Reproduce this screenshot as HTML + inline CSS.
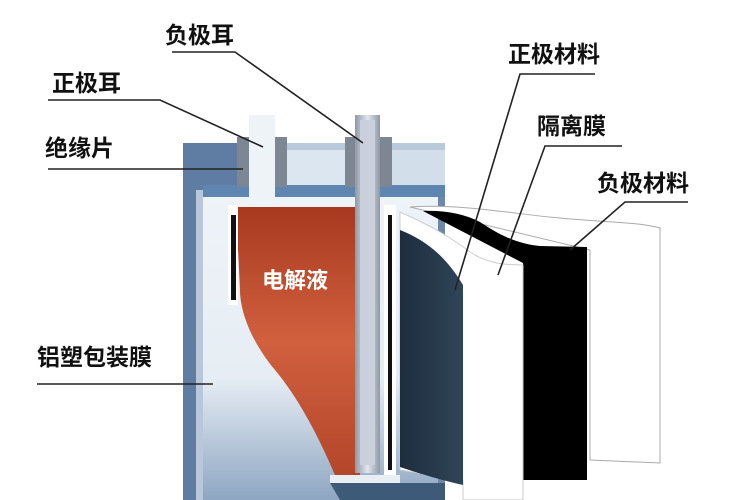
<!DOCTYPE html>
<html><head><meta charset="utf-8"><style>
html,body{margin:0;padding:0;background:#fff;}
svg{display:block}
text{font-family:"Liberation Sans","Noto Sans CJK SC",sans-serif;font-size:23px;fill:#111;font-weight:bold;}
</style></head><body>
<svg width="736" height="500" viewBox="0 0 736 500" xmlns="http://www.w3.org/2000/svg">
<defs>
<linearGradient id="cas" x1="0" y1="0" x2="0" y2="1">
<stop offset="0" stop-color="#eef3f8"/><stop offset="0.6" stop-color="#e6edf4"/><stop offset="1" stop-color="#8ea6c2"/></linearGradient>
<linearGradient id="red" x1="0" y1="0" x2="0" y2="1">
<stop offset="0" stop-color="#a8391f"/><stop offset="0.5" stop-color="#d0603e"/><stop offset="1" stop-color="#b4462a"/></linearGradient>
<linearGradient id="tab" x1="0" y1="0" x2="1" y2="0">
<stop offset="0" stop-color="#8f98a6"/><stop offset="0.5" stop-color="#e2e6ee"/><stop offset="1" stop-color="#8f98a6"/></linearGradient>
<linearGradient id="navy" x1="0" y1="0" x2="1" y2="0">
<stop offset="0" stop-color="#1d2d3e"/><stop offset="1" stop-color="#2f4558"/></linearGradient>
</defs>
<rect x="183" y="143" width="262" height="357" fill="#6d88a8"/>
<rect x="183" y="143" width="57" height="357" fill="#5f7ca3"/>
<rect x="196" y="190" width="18" height="310" fill="#b8c8da"/>
<rect x="203" y="195" width="235" height="305" fill="url(#cas)"/>
<rect x="240" y="143" width="205" height="42" fill="#b9cadb"/>
<rect x="287" y="150" width="58" height="35" fill="#dbe6f0"/>
<rect x="392" y="150" width="53" height="35" fill="#d2dfeb"/>
<rect x="203" y="185" width="242" height="12" fill="#5f86b0"/>
<rect x="237" y="137" width="12" height="50" fill="#7d8793"/>
<rect x="275" y="137" width="12" height="50" fill="#7d8793"/>
<rect x="345" y="137" width="10" height="50" fill="#7d8793"/>
<rect x="380" y="137" width="12" height="50" fill="#7d8793"/>
<path d="M236 207 L360 207 L360 475 L335 475 C320 440 300 400 275 370 C250 340 240 310 240 290 Z" fill="url(#red)"/>
<rect x="228" y="205" width="10" height="100" fill="#fff"/>
<rect x="231" y="215" width="5" height="85" fill="#111"/>
<rect x="384" y="205" width="12" height="270" fill="#fff"/>
<rect x="388" y="215" width="4" height="255" fill="#111"/>
<rect x="330" y="475" width="70" height="8" fill="#e8eef4"/>
<path d="M330 483 L445 483 L445 500 L340 500 Z" fill="#3d5a78"/>
<rect x="249" y="115" width="26" height="92" fill="#eef3f7"/>
<rect x="355" y="115" width="25" height="358" fill="url(#tab)"/>
<rect x="360" y="120" width="15" height="345" fill="#c9d0db"/>
<text x="262" y="288" style="fill:#fff;font-size:22px">电解液</text>
<path d="M410 207 C460 203 520 215 560 218 C600 222 640 222 660 228 L660 463 L590 460 L590 250 Z" fill="#fff" stroke="#aaa" stroke-width="1"/>
<path d="M423 211 C445 210 465 214 480 222 C495 232 515 244 540 246 L587 247 L587 480 L523 480 L523 263 Z" fill="#000"/>
<path d="M400 212 C430 225 455 240 470 252 C485 262 500 265 523 265 L523 500 L463 500 L463 480 L400 470 Z" fill="#fff" stroke="#ccc" stroke-width="1"/>
<path d="M400 230 C425 240 445 255 463 285 L463 485 C440 480 415 472 400 467 Z" fill="url(#navy)"/>
<g stroke="#222" stroke-width="1.6" fill="none">
<polyline points="172,52 235,52 363,143"/>
<polyline points="48,100 160,100 263,147"/>
<line x1="48" y1="169" x2="243" y2="169"/>
<line x1="37" y1="384" x2="213" y2="384"/>
<polyline points="595,74 520,74 455,290"/>
<polyline points="622,146 545,146 498,275"/>
<polyline points="688,202 625,202 570,250"/>
</g>
<text x="165" y="43">负极耳</text>
<text x="52" y="91">正极耳</text>
<text x="45" y="156">绝缘片</text>
<text x="37" y="365">铝塑包装膜</text>
<text x="508" y="62">正极材料</text>
<text x="537" y="134">隔离膜</text>
<text x="597" y="191">负极材料</text>
</svg>
</body></html>
